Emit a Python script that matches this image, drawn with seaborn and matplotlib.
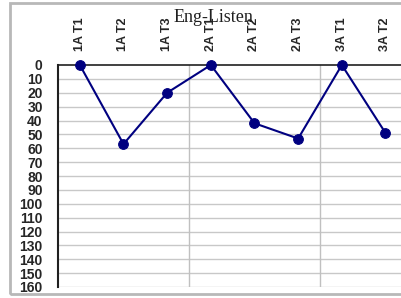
import numpy as np
import pandas as pd
import seaborn as sns
import matplotlib.pyplot as plt
from matplotlib.patches import Rectangle

# Data (lower is drawn further down, axis reversed)
categories = ['1A T1', '1A T2', '1A T3', '2A T1', '2A T2', '2A T3', '3A T1', '3A T2']
scores = [0, 57, 20, 0, 42, 53, 0, 49]
y_ticks = list(range(0, 161, 10))
title = 'Eng-Listen'

df = pd.DataFrame({'cat': categories, 'score': scores})
df['pos'] = np.arange(len(df))

sns.set_style('white')
plt.rcParams['font.family'] = ['Liberation Sans', 'DejaVu Sans']

fig = plt.figure(figsize=(4.02, 2.98), dpi=100)
# plot area runs off the right edge like in the original screenshot
ax = fig.add_axes([58 / 402, 1 - 287 / 298, 393 / 402, 222 / 298])

sns.lineplot(data=df, x='pos', y='score', ax=ax, color='#000080', marker='o',
             markersize=7, markeredgecolor='#000080', linewidth=1.5, zorder=5,
             clip_on=False)

ax.set_xlim(-0.5, 8.5)
ax.set_ylim(160, 0)
ax.set_yticks(y_ticks)
ax.set_yticklabels([str(v) for v in y_ticks], fontsize=10, fontweight='bold')
ax.set_xticks(df['pos'])
ax.set_xticklabels(categories, rotation=90, fontsize=9, fontweight='bold')
ax.xaxis.tick_top()
ax.tick_params(axis='x', length=0, pad=10)
ax.tick_params(axis='y', length=0, pad=11)
ax.set_xlabel('')
ax.set_ylabel('')

# grid lines
for v in y_ticks[1:]:
    ax.axhline(v, color='#c8c8c8', linewidth=1, zorder=1)
for v in [2.5, 5.5]:
    ax.axvline(v, color='#c0c0c0', linewidth=1, zorder=1)

for side in ['right', 'bottom']:
    ax.spines[side].set_visible(False)
ax.spines['left'].set_color('#202020')
ax.spines['left'].set_linewidth(1.5)
ax.spines['top'].set_color('#202020')
ax.spines['top'].set_linewidth(1.2)

fig.text(213 / 402, 1 - 17 / 298, title, family='Liberation Serif', fontsize=13,
         ha='center', va='center', color='#202020')

# outer chart border
fig.patches.append(Rectangle((10 / 402, 1 - 294 / 298), 1.2, 291 / 298,
                             transform=fig.transFigure, fill=False,
                             edgecolor='#b8b8b8', linewidth=2))

fig.savefig('out.png', dpi=100)
